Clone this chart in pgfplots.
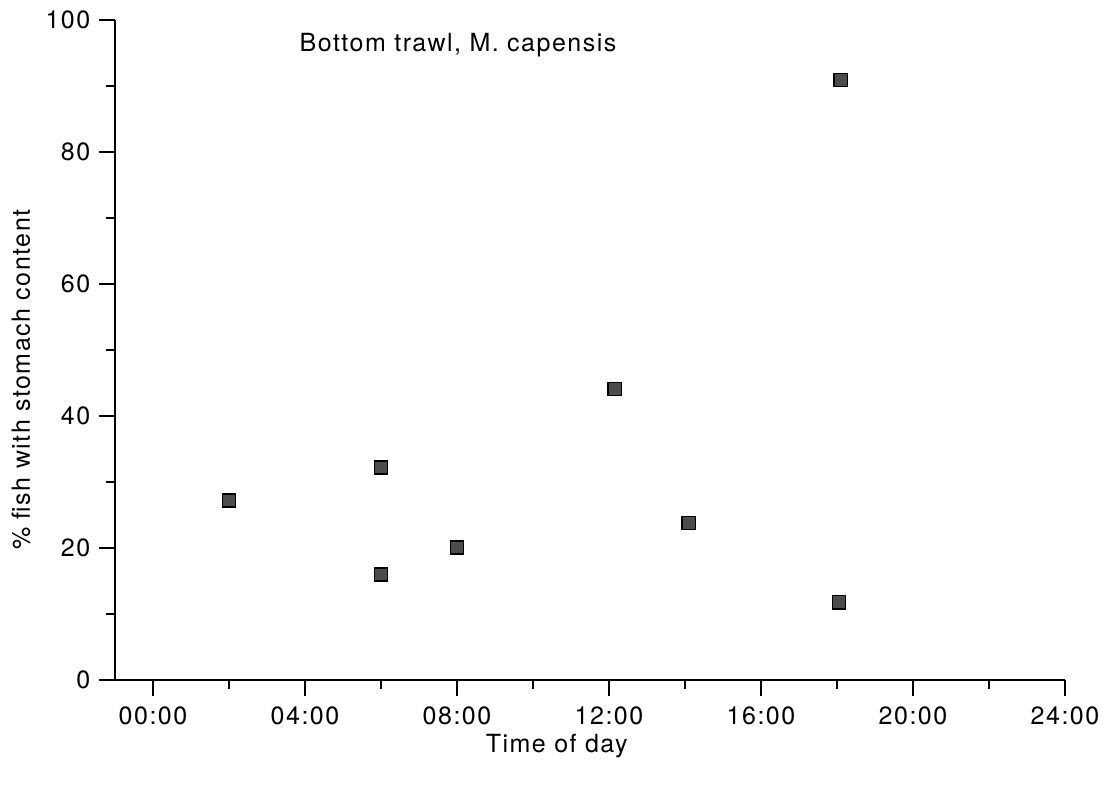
\documentclass[border=0pt]{standalone}
\usepackage{fontspec}
\setmainfont{TeX Gyre Heros}[LetterSpace=6]
\usepackage{pgfplots}
\pgfplotsset{compat=1.18}
\begin{document}
\fontsize{12.5bp}{14bp}\selectfont
\begin{tikzpicture}
\begin{axis}[
  scale only axis,
  width=475bp, height=330bp,
  xmin=-1, xmax=24, ymin=0, ymax=100,
  axis x line=bottom, axis y line=left,
  axis line style={-, line width=1.1bp, black},
  tick align=outside,
  major tick length=8bp, minor tick length=4.5bp,
  every tick/.style={black, line width=1bp},
  xtick={0,4,8,12,16,20,24},
  xticklabels={00:00,04:00,08:00,12:00,16:00,20:00,24:00},
  ytick={0,20,40,60,80,100},
  minor x tick num=1, minor y tick num=1,
  /pgf/number format/assume math mode=true,
  ticklabel style={font=\fontsize{12.5bp}{14bp}\selectfont},
  xticklabel style={yshift=-1bp},
  yticklabel style={xshift=0bp},
  xlabel={Time of day},
  ylabel={\% fish with stomach content},
  label style={font=\fontsize{12.5bp}{14bp}\selectfont},
  xlabel style={at={(rel axis cs:0.465,0)}, anchor=center, yshift=-33bp},
  ylabel style={at={(rel axis cs:0,0.455)}, anchor=center, yshift=47bp},
  clip=false,
]
\addplot[only marks, mark=square*, mark size=3.3bp,
  mark options={fill=black!70, draw=black, line width=0.8bp}]
  coordinates {
  (2.0,27.2) (6.0,32.2) (6.0,16.0) (8.0,20.1) (12.15,44.1)
  (14.1,23.8) (18.05,11.8) (18.1,90.9)
  };
\node[anchor=west, inner sep=0pt] at (axis cs:3.85,96.2) {Bottom trawl, M. capensis};
\end{axis}
\pgfresetboundingbox
\path (-57.5bp,-55.5bp) rectangle (496bp,340bp);
\end{tikzpicture}
\end{document}
